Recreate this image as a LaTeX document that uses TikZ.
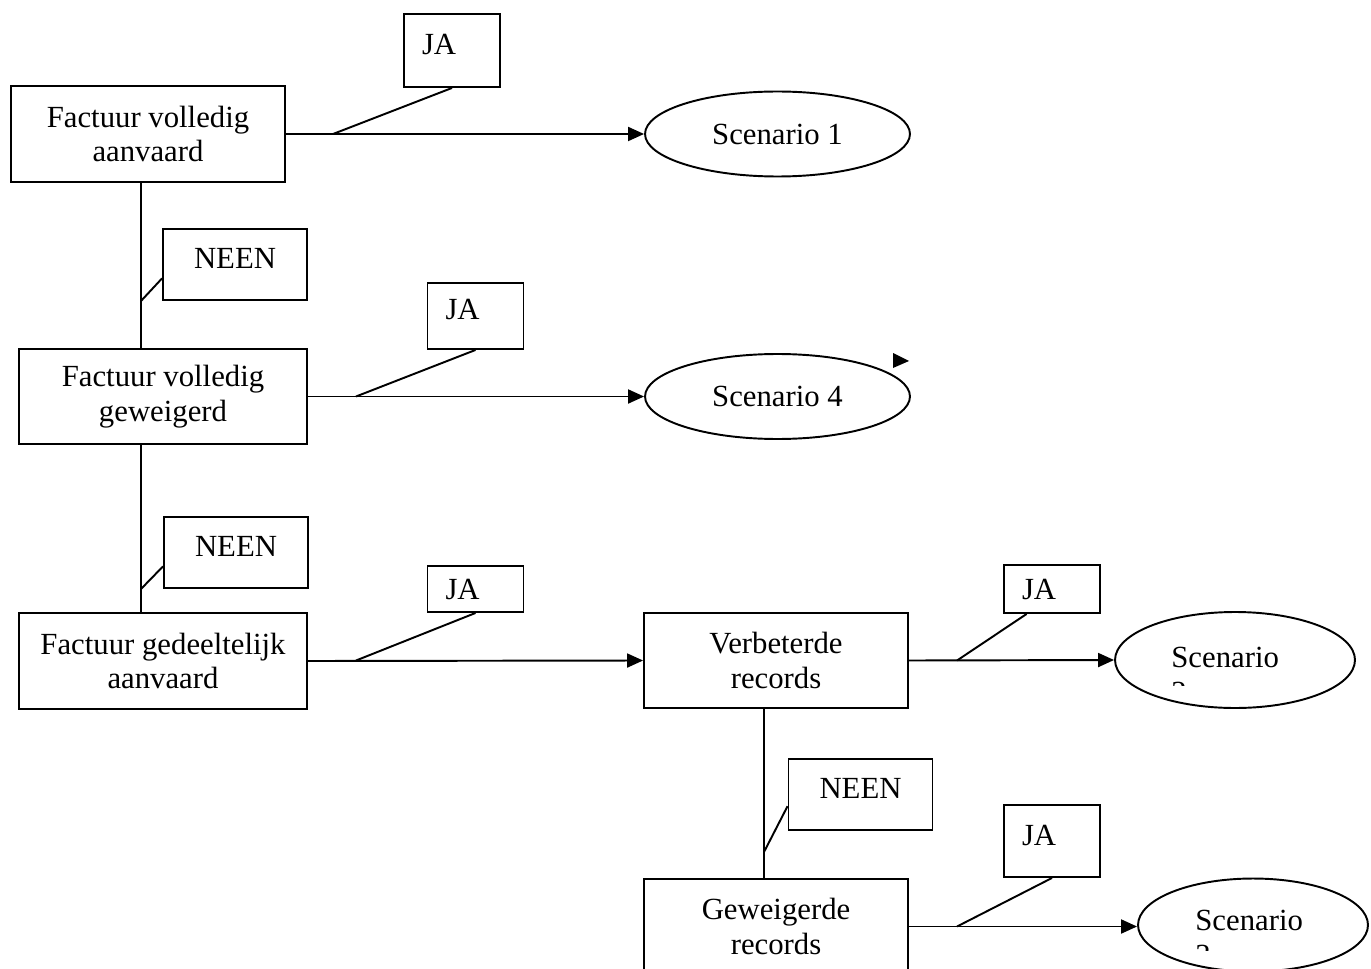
\documentclass[tikz,border=0pt]{standalone}
\usepackage{fontspec}
\setmainfont{Liberation Serif}
\usetikzlibrary{arrows.meta, shapes.geometric, positioning, calc}
\tikzset{
  stepnode/.style={
    rectangle, draw=black, line width=1.1pt, minimum height=1.91cm,
    align=center, font=\fontsize{17.5}{19.85}\selectfont
  },
  scen/.style={ellipse, draw=black, line width=1.1pt, minimum width=5.3cm, minimum height=1.7cm, font=\fontsize{17.5}{19.85}\selectfont},
  scentext/.style={anchor=base west, align=left, inner sep=0pt, font=\fontsize{17.5}{19.85}\selectfont},
  answer/.style={rectangle, draw=black, line width=1.1pt, text height=0.41cm, text depth=0.25cm, font=\fontsize{17.5}{19.85}\selectfont},
  ja/.style={answer, minimum width=1.92cm, text width=1.2cm, align=left},
  neen/.style={answer, minimum width=2.88cm, minimum height=1.42cm, align=center},
  flow/.style={-{Triangle[length=0.32cm, width=0.28cm]}, line width=1.1pt},
  link/.style={line width=1.1pt}
}

\begin{document}
\begin{tikzpicture}[x=0.02cm, y=-0.02cm]
    \useasboundingbox (0,0) rectangle (1371,969);
    \clip (0,0) rectangle (1371,969);
    \node[stepnode, minimum width=5.48cm] (fva) at (148,134) {Factuur volledig\\aanvaard};
    \node[stepnode, minimum width=5.76cm] (fvg) at (163,396.5) {Factuur volledig\\geweigerd};
    \node[stepnode, minimum width=5.76cm] (fga) at (163,661) {Factuur gedeeltelijk\\aanvaard};
    \node[stepnode, minimum width=5.28cm] (vr) at (776,660.5) {Verbeterde\\records};
    \node[stepnode, minimum width=5.28cm] (gr) at (776,926.5) {Geweigerde\\records};
    \node[scen] (sc1) at (777.5,134) {Scenario 1};
    \node[scen] (sc4) at (777.5,396.5) {Scenario 4};
    \node[scen, minimum width=4.8cm, minimum height=1.92cm] (sc2) at (1235,660) {};
    \node[scen, minimum width=4.6cm, minimum height=1.86cm] (sc3) at (1253,925) {};
    \begin{scope}
    \clip (1100,600) rectangle (1371,685);
    \node[scentext] (sc2t) at (1171,702) {Scenario\\2};
    \end{scope}
    \begin{scope}
    \clip (1100,860) rectangle (1371,950);
    \node[scentext] (sc3t) at (1195,965) {Scenario\\3};
    \end{scope}
    \node[ja, minimum height=1.46cm] (ja1) at (452,50.5) {JA};
    \node[ja, minimum height=1.32cm] (ja2) at (475.5,316) {JA};
    \node[ja, minimum height=0.92cm, text depth=0pt] (ja3) at (475.5,589) {JA};
    \node[ja, minimum height=0.96cm, text depth=0pt] (ja4) at (1052,589) {JA};
    \node[ja, minimum height=1.44cm] (ja5) at (1052,841) {JA};
    \node[neen] (neen1) at (235,264.5) {NEEN};
    \node[neen] (neen2) at (236,552.5) {NEEN};
    \node[neen] (neen3) at (860.5,794.5) {NEEN};
    \coordinate (vl) at (141,0);
    \coordinate (vk) at (764,0);
    \coordinate (t1) at (333,134);
    \coordinate (t2) at (356,396.5);
    \coordinate (t3) at (356,660.5);
    \coordinate (t4) at (957,660.5);
    \coordinate (t5) at (957,926.5);
    \coordinate (n1) at (141,301);
    \coordinate (n2) at (141,589);
    \coordinate (n3) at (764,852);
    \draw[link] (fva.south -| vl) -- (fvg.north -| vl);
    \draw[link] (fvg.south -| vl) -- (fga.north -| vl);
    \draw[link] (vr.south -| vk) -- (gr.north -| vk);
    \draw[flow] (fva.east) -- (sc1.west);
    \draw[flow] (fvg.east) -- (sc4.west);
    \draw[flow] (fga.east) -- (vr.west);
    \draw[flow] (vr.east) -- (sc2.west);
    \draw[flow] (gr.east) -- (gr.east -| sc3.west);
    \draw[link] (ja1.south) -- (t1);
    \draw[link] (ja2.south) -- (t2);
    \draw[link] (ja3.south) -- (t3);
    \draw[link] ($(ja4.south west)!0.24!(ja4.south east)$) -- (t4);
    \draw[link] (ja5.south) -- (t5);
    \draw[link] ($(neen1.north west)!0.69!(neen1.south west)$) -- (n1);
    \draw[link] ($(neen2.north west)!0.69!(neen2.south west)$) -- (n2);
    \draw[link] ($(neen3.north west)!0.66!(neen3.south west)$) -- (n3);
    \fill (893,353) -- (909,361) -- (893,368) -- cycle;
\end{tikzpicture}
\end{document}
